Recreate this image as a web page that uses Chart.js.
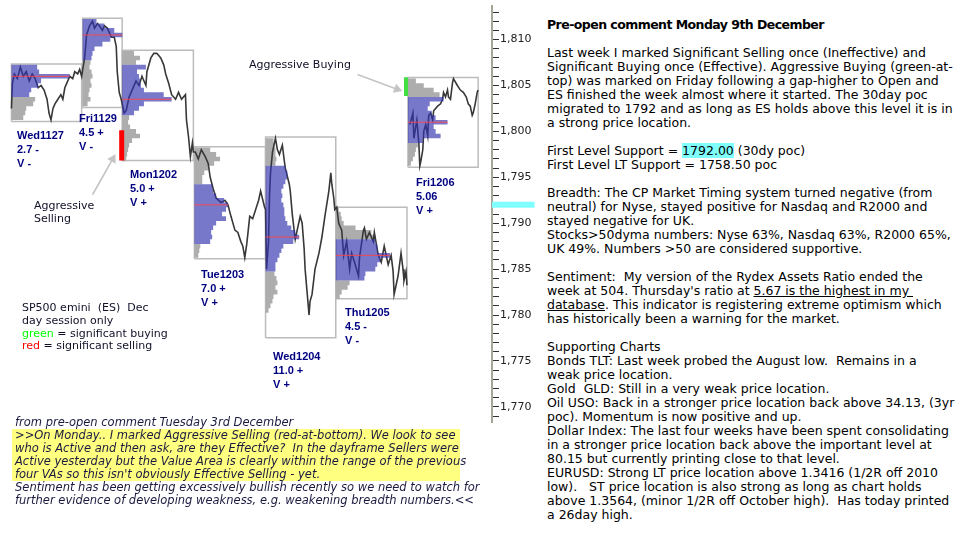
<!DOCTYPE html>
<html lang="en">
<head>
<meta charset="UTF-8">
<title>ES day session profiles</title>
<script src="https://cdn.jsdelivr.net/npm/chart.js"></script>
<style>
  body { margin: 0; width: 973px; height: 542px; background: #fff; position: relative; overflow: hidden; font-family: "DejaVu Sans", sans-serif; }
  #wrap { position: absolute; left: 0; top: 0; width: 545px; height: 428px; }
  .day { position: absolute; font: bold 11px "Liberation Sans", Arial, sans-serif; color: #000080; line-height: 14px; white-space: pre; }
  .note { position: absolute; font-size: 11px; color: #101028; white-space: pre; line-height: 13px; }
  #comment { position: absolute; left: 547px; top: 18px; font-size: 12.5px; line-height: 14px; white-space: pre; color: #000; }
  #comment b { font-weight: bold; letter-spacing: -0.55px; }
  #comment .cy { background: #80ffff; }
  #earlier { position: absolute; left: 15px; top: 416px; font-size: 11.5px; font-style: italic; line-height: 13px; white-space: pre; color: #1a1a40; }
  #earlier .hl { background: #ffff80; margin-left: -3px; padding-left: 3px; width: 445px; }
</style>
</head>
<body>
<div id="wrap"><canvas id="chart"></canvas></div>

<div class="note" style="left:249px; top:58px;">Aggressive Buying</div>
<div class="note" style="left:34px; top:199px;">Aggressive
Selling</div>
<div class="note" style="left:22px; top:302px; line-height:12.8px;">SP500 emini  (ES)  Dec
day session only
<span style="color:#00ff00">green</span> = significant buying
<span style="color:#ff0000">red</span> = significant selling</div>

<div id="comment"><b>Pre-open comment Monday 9th December</b>

Last week I marked Significant Selling once (Ineffective) and
Significant Buying once (Effective). Aggressive Buying (green-at-
top) was marked on Friday following a gap-higher to Open and
ES finished the week almost where it started. The 30day poc
migrated to 1792 and as long as ES holds above this level it is in
a strong price location.

First Level Support = <span class="cy">1792.00</span> (30dy poc)
First Level LT Support = 1758.50 poc

Breadth: The CP Market Timing system turned negative (from
neutral) for Nyse, stayed positive for Nasdaq and R2000 and
stayed negative for UK.
Stocks&gt;50dyma numbers: Nyse 63%, Nasdaq 63%, R2000 65%,
UK 49%. Numbers &gt;50 are considered supportive.

Sentiment:  My version of the Rydex Assets Ratio ended the
week at 504. Thursday's ratio at <u>5.67 is the highest in my </u>
<u>database</u>. This indicator is registering extreme optimism which
has historically been a warning for the market.

Supporting Charts
Bonds TLT: Last week probed the August low.  Remains in a
weak price location.
Gold  GLD: Still in a very weak price location.
Oil USO: Back in a stronger price location back above 34.13, (3yr
poc). Momentum is now positive and up.
Dollar Index: The last four weeks have been spent consolidating
in a stronger price location back above the important level at
80.15 but currently printing close to that level.
EURUSD: Strong LT price location above 1.3416 (1/2R off 2010
low).   ST price location is also strong as long as chart holds
above 1.3564, (minor 1/2R off October high).  Has today printed
a 26day high.</div>

<div id="earlier">from pre-open comment Tuesday 3rd December
<div class="hl">&gt;&gt;On Monday.. I marked Aggressive Selling (red-at-bottom). We look to see
who is Active and then ask, are they Effective?  In the dayframe Sellers were
Active yesterday but the Value Area is clearly within the range of the previous
four VAs so this isn't obviously Effective Selling - yet.</div>Sentiment has been getting excessively bullish recently so we need to watch for
further evidence of developing weakness, e.g. weakening breadth numbers.&lt;&lt;</div>

<script>
// sessions, left to right
const days = ['Wed1127', 'Fri1129', 'Mon1202', 'Tue1203', 'Wed1204', 'Thu1205', 'Fri1206'];
const dayRange = ['2.7 -', '4.5 +', '5.0 +', '7.0 +', '11.0 +', '4.5 -', '5.06'];
const dayVolume = ['V -', 'V -', 'V +', 'V +', 'V +', 'V -', 'V +'];

// session start/end on the time axis (bar slots)
const sessionStart = [6, 78, 118, 191, 263, 334, 407];
const sessionEnd = [77, 118, 190, 263, 334, 406, 478];
const boxHigh = [1807.35, 1812.33, 1808.83, 1798.33, 1799.39, 1791.75, 1805.86];
const boxLow = [1801.09, 1802.6, 1796.84, 1786.13, 1777.53, 1781.78, 1796.1];
const vaHigh = [1807.0, 1812.0, 1807.0, 1794.0, 1796.0, 1788.0, 1803.5];
const vaLow = [1804.0, 1808.0, 1802.0, 1788.0, 1785.0, 1784.0, 1799.0];
const poc = [1806.0, 1810.5, 1803.5, 1792.0, 1788.5, 1786.5, 1801.0];
const poc30day = 1792;

// volume profiles: [price, length in bar slots], half a point per row
const profileWed1127 = [[1807.0,26],[1806.5,28],[1806.0,59],[1805.5,30],[1805.0,27],[1804.5,20],[1804.0,18],
  [1803.5,24],[1803.0,22],[1802.5,15],[1802.0,14],[1801.5,12]];
const profileFri1129 = [[1812.0,14],[1811.5,22],[1811.0,32],[1810.5,40],[1810.0,28],[1809.5,20],[1809.0,12],[1808.5,10],[1808.0,9],
  [1807.5,8],[1807.0,7],[1806.5,9],[1806.0,10],[1805.5,8],[1805.0,9],[1804.5,7],[1804.0,6],[1803.5,8],[1803.0,5]];
const profileMon1202 = [[1808.5,12],[1808.0,18],[1807.5,14],[1807.0,24],[1806.5,15],[1806.0,17],[1805.5,18],[1805.0,19],
  [1804.5,22],[1804.0,42],[1803.5,50],[1803.0,22],[1802.5,17],[1802.0,12],[1801.5,7],[1801.0,6],[1800.5,8],[1800.0,14],
  [1799.5,18],[1799.0,10],[1798.5,7],[1798.0,6],[1797.5,5],[1797.0,4]];
const profileTue1203 = [[1798.0,16],[1797.5,22],[1797.0,26],[1796.5,20],[1796.0,14],[1795.5,10],[1795.0,8],[1794.5,8],
  [1794.0,18],[1793.5,19],[1793.0,22],[1792.5,30],[1792.0,34],[1791.5,32],[1791.0,28],[1790.5,32],[1790.0,22],[1789.5,19],
  [1789.0,17],[1788.5,18],[1788.0,16],[1787.5,6],[1787.0,5],[1786.5,4]];
const profileWed1204 = [[1799.0,8],[1798.5,9],[1798.0,10],[1797.5,10],[1797.0,11],[1796.5,10],[1796.0,20],[1795.5,22],
  [1795.0,22],[1794.5,20],[1794.0,18],[1793.5,16],[1793.0,17],[1792.5,16],[1792.0,18],[1791.5,19],[1791.0,19],[1790.5,20],
  [1790.0,22],[1789.5,26],[1789.0,30],[1788.5,34],[1788.0,28],[1787.5,18],[1787.0,16],[1786.5,14],[1786.0,12],[1785.5,10],
  [1785.0,10],[1784.5,9],[1784.0,11],[1783.5,12],[1783.0,10],[1782.5,12],[1782.0,8],[1781.5,7],[1781.0,5],[1780.5,3]];
const profileThu1205 = [[1791.5,3],[1791.0,5],[1790.5,6],[1790.0,8],[1789.5,20],[1789.0,36],[1788.5,40],
  [1788.0,40],[1787.5,42],[1787.0,42],[1786.5,55],[1786.0,45],[1785.5,42],[1785.0,40],[1784.5,30],[1784.0,29],
  [1783.5,14],[1783.0,12],[1782.5,6],[1782.0,4]];
const profileFri1206 = [[1805.5,8],[1805.0,16],[1804.5,26],[1804.0,32],[1803.5,36],[1803.0,22],[1802.5,20],[1802.0,24],
  [1801.5,28],[1801.0,40],[1800.5,26],[1800.0,28],[1799.5,33],[1799.0,15],[1798.5,10],[1798.0,8],[1797.5,7],[1797.0,5],[1796.5,3]];

// price path: [bar slot, price]
const pathWed1127 = [[6,1802.5],[7,1805.25],[9,1806.25],[12,1805.75],[15,1807.0],[18,1806.0],[21,1806.5],[24,1805.5],
  [27,1806.25],[30,1805.75],[33,1804.75],[36,1805.0],[39,1804.5],[42,1803.5],[44,1802.0],[46,1801.25],[48,1802.5],
  [50,1803.0],[53,1803.5],[56,1804.0],[58,1803.5],[60,1804.75],[62,1805.25],[65,1806.0],[68,1805.75],[70,1806.5],
  [73,1806.25],[75,1806.75],[77,1806.0]];
const pathFri1129 = [[80,1808.0],[82,1810.5],[85,1811.5],[88,1812.0],[90,1811.25],[93,1811.75],[95,1811.5],[98,1811.0],
  [100,1811.5],[103,1811.25],[105,1810.75],[107,1810.25],[110,1810.25],[112,1809.25],[113,1806.5],[115,1804.25],[117,1803.5]];
const pathMon1202 = [[120,1802.0],[122,1802.25],[125,1803.75],[128,1804.5],[132,1805.5],[135,1805.0],[138,1806.0],[142,1805.0],
  [143,1806.5],[147,1808.0],[150,1808.5],[153,1808.5],[157,1808.0],[160,1807.25],[162,1806.25],[165,1805.25],[168,1804.0],
  [172,1803.5],[175,1804.25],[178,1803.5],[182,1804.0],[183,1801.25],[185,1799.5],[187,1797.25],[189,1798.75],[190,1797.75]];
const pathTue1203 = [[192,1797.75],[195,1797.0],[198,1798.0],[202,1797.25],[205,1796.5],[207,1795.0],[210,1793.75],
  [213,1792.75],[218,1792.25],[222,1792.5],[225,1792.0],[228,1790.75],[232,1789.25],[235,1789.0],[238,1788.0],[240,1787.5],
  [242,1786.25],[244,1787.75],[247,1790.75],[250,1790.5],[253,1791.5],[256,1792.5],[258,1793.5],[262,1791.75]];
const pathWed1204 = [[263,1791.5],[264,1785.0],[266,1788.0],[267,1793.0],[268,1795.5],[270,1797.75],[273,1799.25],
  [275,1798.0],[277,1797.5],[280,1798.5],[282,1796.75],[283,1796.0],[287,1794.25],[288,1793.5],[290,1791.0],[293,1788.25],
  [295,1789.25],[298,1790.75],[300,1790.0],[302,1787.25],[303,1785.0],[305,1782.5],[307,1780.0],[308,1781.5],[310,1782.25],
  [313,1785.0],[317,1786.75],[320,1788.5],[323,1790.75],[327,1793.5],[329,1795.5],[330,1794.25],[332,1792.75],[333,1791.5]];
const pathThu1205 = [[335,1791.75],[337,1790.0],[340,1789.25],[342,1786.5],[345,1788.0],[348,1785.0],[350,1786.75],
  [353,1785.75],[357,1784.25],[358,1786.25],[362,1789.25],[363,1789.5],[365,1788.25],[368,1789.0],[372,1788.0],[373,1789.0],
  [377,1786.5],[380,1785.75],[383,1787.5],[387,1785.5],[390,1786.5],[392,1784.75],[393,1782.25],[397,1784.25],[400,1786.75],
  [402,1785.0],[403,1783.75],[405,1784.75],[406,1783.25]];
const pathFri1206 = [[409,1800.75],[412,1802.0],[413,1799.25],[416,1801.25],[418,1798.75],[419,1796.25],[420,1796.75],
  [422,1798.0],[423,1800.0],[425,1800.75],[427,1799.5],[428,1801.75],[430,1802.0],[432,1801.25],[433,1802.25],[437,1802.75],
  [440,1803.0],[442,1803.5],[443,1804.25],[445,1803.75],[447,1804.5],[448,1803.75],[450,1803.5],[452,1805.25],[453,1805.75],
  [457,1805.0],[460,1804.5],[463,1804.25],[466,1803.75],[468,1803.0],[470,1802.75],[472,1801.75],[473,1802.0],[475,1803.0],
  [477,1804.25],[478,1804.5]];

// marked aggressive selling / buying bars [slot, from, to]
const aggSelling = [117.5, 1800.13, 1796.84];
const aggBuying = [405, 1805.9, 1803.85];
// arrows [slot, price] tail -> head
const arrowBuying = [[356, 1806.2], [396, 1804.6]];
const arrowSelling = [[88, 1793.1], [108.5, 1797.0]];

const profiles = [profileWed1127, profileFri1129, profileMon1202, profileTue1203, profileWed1204, profileThu1205, profileFri1206];
const paths = [pathWed1127, pathFri1129, pathMon1202, pathTue1203, pathWed1204, pathThu1205, pathFri1206];

// layout for the day captions (px)
const captionPos = [[17, 128], [79, 111], [130, 167], [201, 267], [273, 349], [345, 305], [416, 175]];
days.forEach((d, i) => {
  const el = document.createElement('div');
  el.className = 'day';
  el.style.left = captionPos[i][0] + 'px';
  el.style.top = captionPos[i][1] + 'px';
  el.textContent = d + '\n' + dayRange[i] + '\n' + dayVolume[i];
  document.body.appendChild(el);
});

const lineOpts = { type: 'line', pointRadius: 0, tension: 0, fill: false };
const shapeOpts = { type: 'line', pointRadius: 0, tension: 0, fill: 'shape', borderWidth: 0, borderColor: 'rgba(0,0,0,0)', spanGaps: false };
const xy = p => ({ x: p[0], y: p[1] });
const rowHalf = 0.25;

// outline of a block of profile rows, closed back to the session start
function outline(rows, s) {
  if (!rows.length) return [];
  const pts = [{ x: s, y: rows[0][0] + rowHalf }];
  rows.forEach(([p, w]) => { pts.push({ x: s + w, y: p + rowHalf }, { x: s + w, y: p - rowHalf }); });
  pts.push({ x: s, y: rows[rows.length - 1][0] - rowHalf });
  return pts;
}

const datasets = [];
days.forEach((d, i) => {
  const s = sessionStart[i], e = sessionEnd[i];
  const rows = profiles[i];
  const above = rows.filter(p => p[0] > vaHigh[i]);
  const inside = rows.filter(p => p[0] <= vaHigh[i] && p[0] >= vaLow[i]);
  const below = rows.filter(p => p[0] < vaLow[i]);
  datasets.push({ ...lineOpts, order: 40, borderColor: '#bcbcbc', borderWidth: 1.5,
    data: [{ x: s, y: boxLow[i] }, { x: s, y: boxHigh[i] }, { x: e, y: boxHigh[i] }, { x: e, y: boxLow[i] }, { x: s, y: boxLow[i] }] });
  const grey = outline(above, s);
  if (grey.length && below.length) grey.push({ x: s, y: null });
  grey.push(...outline(below, s));
  datasets.push({ ...shapeOpts, order: 30, backgroundColor: '#adadad', data: grey });
  datasets.push({ ...shapeOpts, order: 10, backgroundColor: 'rgba(50,50,175,0.66)', data: outline(inside, s) });
  const pocLen = rows.find(p => p[0] === poc[i])[1];
  datasets.push({ ...lineOpts, order: 5, borderColor: 'rgba(255,70,70,0.9)', borderWidth: 1,
    data: [{ x: s, y: poc[i] }, { x: s + pocLen, y: poc[i] }] });
});

// price path, broken at the Friday gap
const pricePoints = [];
paths.forEach((p, i) => {
  if (i === 6) pricePoints.push({ x: sessionStart[i], y: null });
  p.forEach(q => pricePoints.push(xy(q)));
});
datasets.push({ ...lineOpts, order: 20, borderColor: '#383838', borderWidth: 1.6, spanGaps: false, data: pricePoints });

datasets.push({ ...lineOpts, order: 4, borderColor: '#ff0000', borderWidth: 5, borderCapStyle: 'butt',
  data: [{ x: aggSelling[0], y: aggSelling[1] }, { x: aggSelling[0], y: aggSelling[2] }] });
datasets.push({ ...lineOpts, order: 4, borderColor: '#40e040', borderWidth: 4, borderCapStyle: 'butt',
  data: [{ x: aggBuying[0], y: aggBuying[1] }, { x: aggBuying[0], y: aggBuying[2] }] });

function arrowHeadRotation(ctx) {
  const data = ctx.dataset.data;
  const xs = ctx.chart.scales.x, ys = ctx.chart.scales.y;
  const dx = xs.getPixelForValue(data[1].x) - xs.getPixelForValue(data[0].x);
  const dy = ys.getPixelForValue(data[1].y) - ys.getPixelForValue(data[0].y);
  return Math.atan2(dx, -dy) * 180 / Math.PI;
}
[arrowBuying, arrowSelling].forEach(a => {
  datasets.push({ ...lineOpts, order: 3, borderColor: '#c4c4c4', borderWidth: 1.6, data: a.map(xy),
    pointRadius: [0, 5.5], pointStyle: 'triangle', pointBackgroundColor: '#c4c4c4', pointBorderColor: '#c4c4c4',
    pointBorderWidth: 0, pointRotation: arrowHeadRotation });
});

// 30 day poc marker on the price axis
datasets.push({ ...lineOpts, order: 1, clip: false, borderColor: '#80ffff', borderWidth: 6, borderCapStyle: 'butt',
  data: [{ x: 492, y: poc30day }, { x: 535, y: poc30day }] });

const priceTicks = [];
for (let v = 1769; v <= 1813; v++) priceTicks.push(v);

new Chart(document.getElementById('chart'), {
  type: 'line',
  data: { datasets },
  options: {
    responsive: true,
    maintainAspectRatio: false,
    animation: false,
    events: [],
    layout: { padding: 0 },
    plugins: { legend: { display: false }, tooltip: { enabled: false } },
    scales: {
      x: { type: 'linear', min: 0, max: 492, display: false, offset: false, grid: { offset: false } },
      y: {
        type: 'linear', position: 'right', min: 1768.3, max: 1813.71, offset: false, beginAtZero: false,
        afterBuildTicks: s => { s.ticks = priceTicks.map(v => ({ value: v })); },
        afterFit: s => { s.width = 53; s.paddingTop = 0; s.paddingBottom = 0; },
        grid: { drawOnChartArea: false, offset: false, tickLength: 7, color: '#333' },
        border: { color: '#a5a598', width: 2 },
        ticks: {
          autoSkip: false, padding: 1, color: '#222',
          font: { family: 'DejaVu Sans', size: 11 },
          callback: v => (v % 5 === 0 ? v.toLocaleString('en-US') : '')
        }
      }
    }
  }
});
</script>
</body>
</html>
